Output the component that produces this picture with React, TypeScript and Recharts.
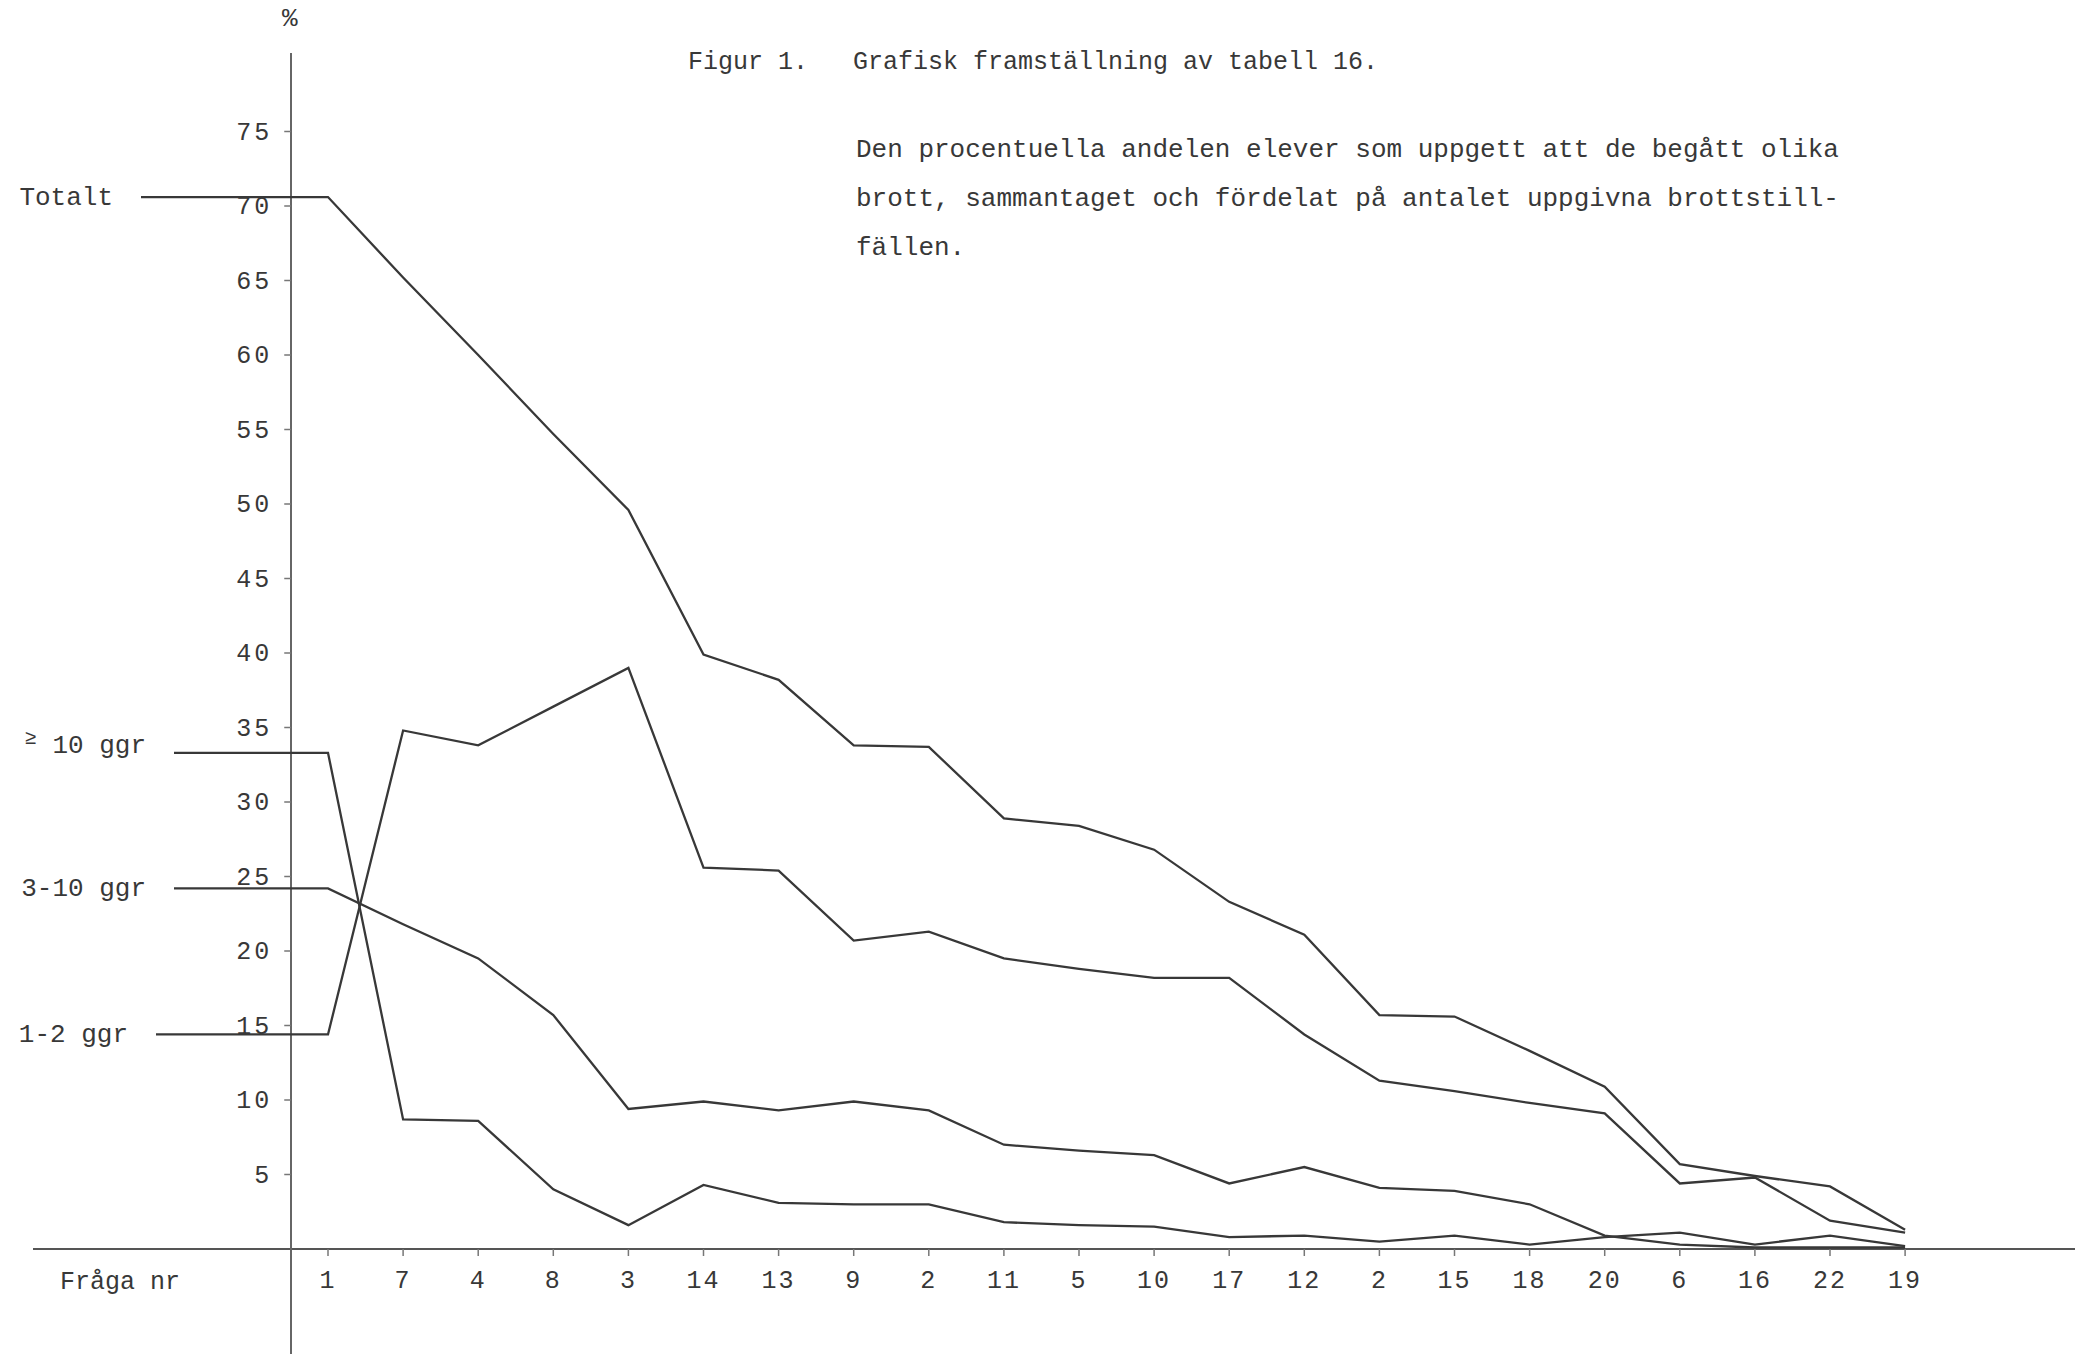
import { Line, LineChart, ReferenceLine, XAxis, YAxis } from "recharts";

// question numbers along the x axis, in the order they are drawn
const QUESTIONS = ["1", "7", "4", "8", "3", "14", "13", "9", "2", "11", "5", "10", "17", "12", "2", "15", "18", "20", "6", "16", "22", "19"];

// percent of pupils, per question
const TOTALT = [70.6, 65.2, 60.0, 54.7, 49.6, 39.9, 38.2, 33.8, 33.7, 28.9, 28.4, 26.8, 23.3, 21.1, 15.7, 15.6, 13.3, 10.9, 5.7, 4.9, 4.2, 1.3];
const GGR_OVER_10 = [33.3, 8.7, 8.6, 4.0, 1.6, 4.3, 3.1, 3.0, 3.0, 1.8, 1.6, 1.5, 0.8, 0.9, 0.5, 0.9, 0.3, 0.8, 1.1, 0.3, 0.9, 0.2];
const GGR_3_10 = [24.2, 21.8, 19.5, 15.7, 9.4, 9.9, 9.3, 9.9, 9.3, 7.0, 6.6, 6.3, 4.4, 5.5, 4.1, 3.9, 3.0, 0.9, 0.3, 0.1, 0.1, 0.1];
const GGR_1_2 = [14.4, 34.8, 33.8, 36.4, 39.0, 25.6, 25.4, 20.7, 21.3, 19.5, 18.8, 18.2, 18.2, 14.4, 11.3, 10.6, 9.8, 9.1, 4.4, 4.8, 1.9, 1.1];

const Y_TICKS = [5, 10, 15, 20, 25, 30, 35, 40, 45, 50, 55, 60, 65, 70, 75];

// page layout (px)
const W = 2075;
const H = 1354;
const FIRST_X = 328; // x of question 1
const STEP_X = 75.1;
const BASE_Y = 1249; // 0 %
const PX_PER_PCT = 14.9;

const posX = (px: number) => (px - FIRST_X) / STEP_X;
const valY = (py: number) => (BASE_Y - py) / PX_PER_PCT;

const X_MIN = posX(0);
const X_MAX = posX(W);
const Y_MAX = valY(0);
const AXIS_X = posX(291);

const INK = "#383838";
const FONT = "'Liberation Mono', 'DejaVu Sans Mono', monospace";

const SERIES = [
	{ key: "totalt", label: "Totalt", prefix: "", values: TOTALT, startPx: 141 },
	{ key: "over10", label: " 10 ggr", prefix: "≥", values: GGR_OVER_10, startPx: 174 },
	{ key: "g310", label: "3-10 ggr", prefix: "", values: GGR_3_10, startPx: 174 },
	{ key: "g12", label: "1-2 ggr", prefix: "", values: GGR_1_2, startPx: 156 },
];

// the series name is drawn at the start of its lead-in line
function seriesName(text: string, prefix: string) {
	return (props: any) => {
		if (props.index !== 0) return <g key={props.index} />;
		return (
			<text
				key={props.index}
				x={props.cx - 28}
				y={props.cy}
				dy={8}
				textAnchor='end'
				fontFamily={FONT}
				fontSize={26}
				fill={INK}
			>
				{prefix ? (
					<>
						<tspan fontSize={20} dy={-9}>
							{prefix}
						</tspan>
						<tspan dy={9}>{text}</tspan>
					</>
				) : (
					text
				)}
			</text>
		);
	};
}

function TickLabel(props: any) {
	const vb = props.viewBox;
	return (
		<text
			x={vb.x - 12}
			y={vb.y}
			dy={8}
			textAnchor='end'
			fontFamily={FONT}
			fontSize={25}
			letterSpacing={3}
			fill={INK}
		>
			{props.value}
		</text>
	);
}

export default function App() {
	return (
		<div style={{ position: "relative", width: W, height: H, background: "#fff", fontFamily: FONT, color: INK }}>
			<style>{"body{margin:0;background:#fff}"}</style>

			<div style={{ position: "absolute", left: 282, top: 4, fontSize: 26 }}>%</div>

			<div style={{ position: "absolute", left: 688, top: 48, fontSize: 25, whiteSpace: "pre" }}>
				{"Figur 1.   Grafisk framställning av tabell 16."}
			</div>
			<div style={{ position: "absolute", left: 856, top: 126, fontSize: 26, lineHeight: "49px", whiteSpace: "pre" }}>
				<div>Den procentuella andelen elever som uppgett att de begått olika</div>
				<div>brott, sammantaget och fördelat på antalet uppgivna brottstill-</div>
				<div>fällen.</div>
			</div>

			<div style={{ position: "absolute", left: 60, top: 1268, fontSize: 25, whiteSpace: "pre" }}>Fråga nr</div>

			<div style={{ position: "absolute", left: 0, top: 0 }}>
				<LineChart width={W} height={H} margin={{ top: 0, right: 0, bottom: 0, left: 0 }}>
					<XAxis
						type='number'
						dataKey='x'
						domain={[X_MIN, X_MAX]}
						allowDataOverflow
						height={H - BASE_Y}
						ticks={QUESTIONS.map((_, i) => i)}
						interval={0}
						tickFormatter={(i: number) => QUESTIONS[i]}
						axisLine={false}
						tickLine={{ stroke: "#777", strokeWidth: 1.5 }}
						tickSize={7}
						tickMargin={14}
						tick={{ fill: INK, fontFamily: FONT, fontSize: 25, letterSpacing: 2 }}
					/>
					<YAxis hide type='number' domain={[0, Y_MAX]} allowDataOverflow />

					{/* axes, drawn past the plot like the original */}
					<ReferenceLine
						ifOverflow='visible'
						segment={[
							{ x: posX(33), y: 0 },
							{ x: X_MAX, y: 0 },
						]}
						stroke='#555'
						strokeWidth={2.2}
					/>
					<ReferenceLine
						ifOverflow='visible'
						segment={[
							{ x: AXIS_X, y: valY(53) },
							{ x: AXIS_X, y: valY(H) },
						]}
						stroke='#666'
						strokeWidth={2}
					/>
					{Y_TICKS.map((t) => (
						<ReferenceLine
							key={t}
							ifOverflow='visible'
							segment={[
								{ x: AXIS_X - 0.09, y: t },
								{ x: AXIS_X, y: t },
							]}
							stroke='#777'
							strokeWidth={1.5}
							label={<TickLabel value={String(t)} />}
						/>
					))}

					{SERIES.map((s) => (
						<Line
							key={s.key}
							data={[
								{ x: posX(s.startPx), y: s.values[0] },
								...s.values.map((v, i) => ({ x: i, y: v })),
							]}
							dataKey='y'
							type='linear'
							stroke={INK}
							strokeWidth={2.3}
							dot={seriesName(s.label, s.prefix)}
							activeDot={false}
							isAnimationActive={false}
						/>
					))}
				</LineChart>
			</div>
		</div>
	);
}
